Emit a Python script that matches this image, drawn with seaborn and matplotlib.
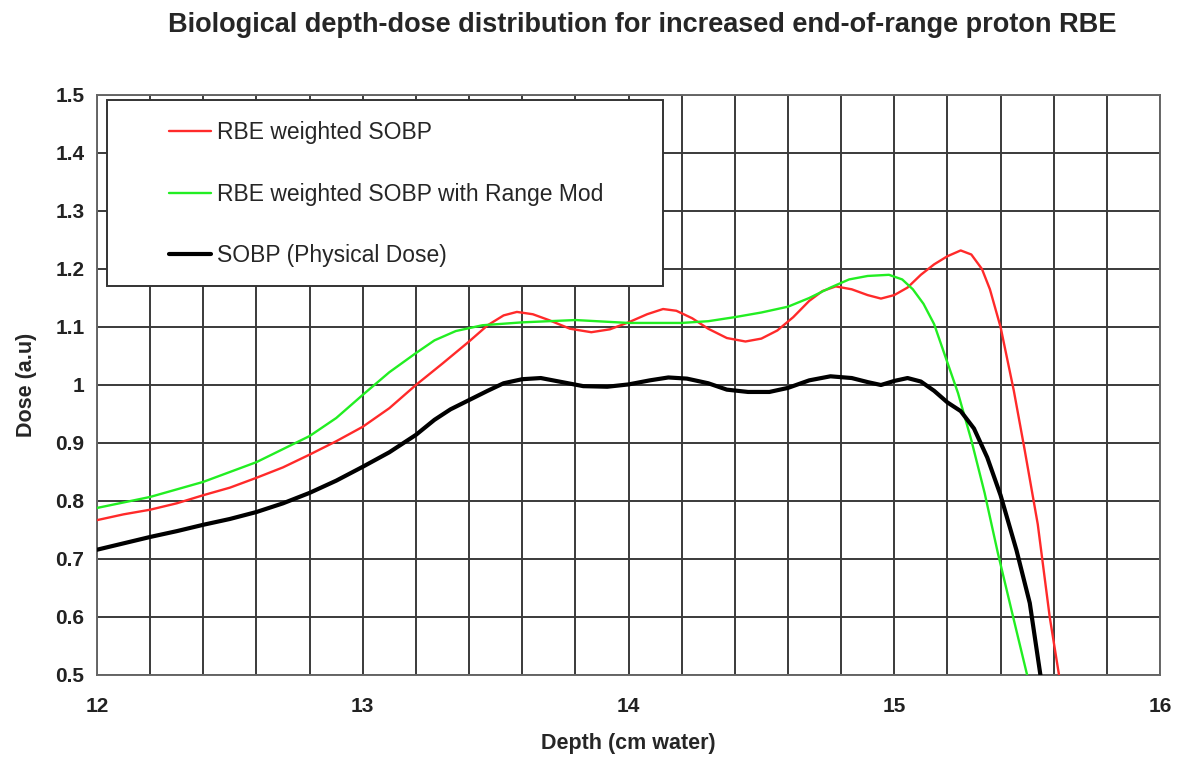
import matplotlib
matplotlib.use("Agg")
import matplotlib.pyplot as plt
from matplotlib.patches import Rectangle
from matplotlib.lines import Line2D
from matplotlib.ticker import MultipleLocator
import seaborn as sns
import pandas as pd

# data
depth_red = [12.0, 12.1, 12.2, 12.3, 12.4, 12.5, 12.6, 12.7, 12.8, 12.9, 13.0, 13.1, 13.2, 13.3,
             13.4, 13.47, 13.53, 13.58, 13.64, 13.7, 13.78, 13.86, 13.93, 14.0, 14.07, 14.13,
             14.18, 14.24, 14.3, 14.37, 14.44, 14.5, 14.56, 14.62, 14.68, 14.73, 14.78, 14.84,
             14.9, 14.95, 15.0, 15.05, 15.1, 15.15, 15.2, 15.25, 15.29, 15.33, 15.36, 15.4,
             15.45, 15.49, 15.54, 15.585, 15.62]
dose_red = [0.767, 0.777, 0.785, 0.796, 0.81, 0.823, 0.84, 0.858, 0.88, 0.903, 0.928, 0.96, 1.0,
            1.037, 1.075, 1.103, 1.12, 1.126, 1.122, 1.112, 1.097, 1.091, 1.096, 1.108, 1.122,
            1.131, 1.128, 1.115, 1.097, 1.081, 1.075, 1.08, 1.094, 1.117, 1.145, 1.162, 1.17,
            1.165, 1.155, 1.149, 1.155, 1.168, 1.19, 1.208, 1.222, 1.232, 1.225, 1.2, 1.165,
            1.1, 0.99, 0.89, 0.76, 0.6, 0.5]

depth_green = [12.0, 12.2, 12.4, 12.6, 12.8, 12.9, 13.0, 13.1, 13.2, 13.27, 13.35, 13.45, 13.6,
               13.8, 14.0, 14.2, 14.3, 14.4, 14.5, 14.6, 14.68, 14.76, 14.83, 14.9, 14.98,
               15.03, 15.07, 15.11, 15.15, 15.19, 15.24, 15.29, 15.34, 15.39, 15.45, 15.50]
dose_green = [0.788, 0.807, 0.833, 0.867, 0.912, 0.943, 0.983, 1.022, 1.055, 1.077, 1.093, 1.103,
              1.108, 1.112, 1.107, 1.107, 1.11, 1.117, 1.125, 1.135, 1.15, 1.168, 1.182, 1.188,
              1.19, 1.182, 1.165, 1.14, 1.105, 1.052, 0.986, 0.905, 0.814, 0.71, 0.595, 0.5]

depth_black = [12.0, 12.1, 12.2, 12.3, 12.4, 12.5, 12.6, 12.7, 12.8, 12.9, 13.0, 13.1, 13.2,
               13.27, 13.33, 13.4, 13.47, 13.53, 13.6, 13.67, 13.75, 13.83, 13.92, 14.0, 14.08,
               14.15, 14.22, 14.3, 14.37, 14.45, 14.53, 14.6, 14.68, 14.76, 14.84, 14.9, 14.95,
               15.0, 15.05, 15.1, 15.15, 15.2, 15.25, 15.3, 15.35, 15.4, 15.46, 15.51, 15.55]
dose_black = [0.716, 0.727, 0.738, 0.748, 0.759, 0.769, 0.781, 0.796, 0.814, 0.835, 0.859, 0.884,
              0.914, 0.94, 0.958, 0.974, 0.99, 1.003, 1.01, 1.012, 1.005, 0.998, 0.997, 1.001,
              1.008, 1.013, 1.011, 1.003, 0.992, 0.988, 0.988, 0.995, 1.008, 1.015, 1.012, 1.005,
              1.0, 1.007, 1.012, 1.006, 0.99, 0.97, 0.955, 0.925, 0.875, 0.81, 0.715, 0.624, 0.5]

series_names = ["RBE weighted SOBP", "RBE weighted SOBP with Range Mod", "SOBP (Physical Dose)"]
series_colors = ["#ff2a2a", "#22ee22", "#000000"]
series_widths = [1.7, 1.7, 3.0]

sns.set_style("white")
plt.rcParams["font.family"] = ["Liberation Sans", "DejaVu Sans"]

df = pd.concat([
    pd.DataFrame({"depth": depth_red, "dose": dose_red, "series": series_names[0]}),
    pd.DataFrame({"depth": depth_green, "dose": dose_green, "series": series_names[1]}),
    pd.DataFrame({"depth": depth_black, "dose": dose_black, "series": series_names[2]}),
])

fig = plt.figure(figsize=(12, 7.7), dpi=100)
ax = fig.add_axes([97 / 1200, 1 - 675 / 770, 1063 / 1200, 580 / 770])

for name, col, lw in zip(series_names, series_colors, series_widths):
    sub = df[df["series"] == name]
    sns.lineplot(data=sub, x="depth", y="dose", color=col, linewidth=lw, ax=ax,
                 sort=False, legend=False, zorder=3)

ax.set_xlim(12, 16)
ax.set_ylim(0.5, 1.5)
ax.xaxis.set_minor_locator(MultipleLocator(0.2))
ax.set_xticks([12, 13, 14, 15, 16])
ax.set_xticklabels(["12", "13", "14", "15", "16"])
ax.set_yticks([0.5, 0.6, 0.7, 0.8, 0.9, 1.0, 1.1, 1.2, 1.3, 1.4, 1.5])
ax.set_yticklabels(["0.5", "0.6", "0.7", "0.8", "0.9", "1", "1.1", "1.2", "1.3", "1.4", "1.5"])

ax.grid(which="both", color="#3a3a3a", linewidth=1.4)
ax.tick_params(axis="both", which="major", direction="out", length=5, width=1.2,
               color="#555555", labelsize=15)
ax.tick_params(axis="x", which="minor", length=0)
ax.tick_params(axis="x", pad=11)
ax.tick_params(axis="y", pad=4)
for lab in ax.get_xticklabels() + ax.get_yticklabels():
    lab.set_fontweight("bold")
    lab.set_color("#222222")
for side in ["left", "bottom", "top", "right"]:
    ax.spines[side].set_color("#666666")
    ax.spines[side].set_linewidth(1.4)

ax.set_xlabel("Depth (cm water)", fontsize=15.5, fontweight="bold", labelpad=12)
ax.set_ylabel("Dose (a.u)", fontsize=15.5, fontweight="bold", labelpad=13)

# legend box
ax.add_patch(Rectangle((10 / 1063, (675 - 286) / 580), 556 / 1063, 186 / 580,
                       transform=ax.transAxes, facecolor="white", edgecolor="#333333",
                       linewidth=1.4, zorder=4))
handles = [Line2D([0], [0], color=c, linewidth=w) for c, w in zip(series_colors, series_widths)]
ax.legend(handles, series_names, loc="upper left",
          bbox_to_anchor=(61 / 1063, (675 - 110) / 580), frameon=False, borderpad=0,
          fontsize=16.5, handlelength=1.8, handletextpad=0.27, labelspacing=1.68)
ax.get_legend().set_zorder(5)

fig.suptitle("Biological depth-dose distribution for increased end-of-range proton RBE",
             x=0.535, y=0.984, fontsize=19.5, fontweight="bold")

fig.savefig("out.png", dpi=100)
